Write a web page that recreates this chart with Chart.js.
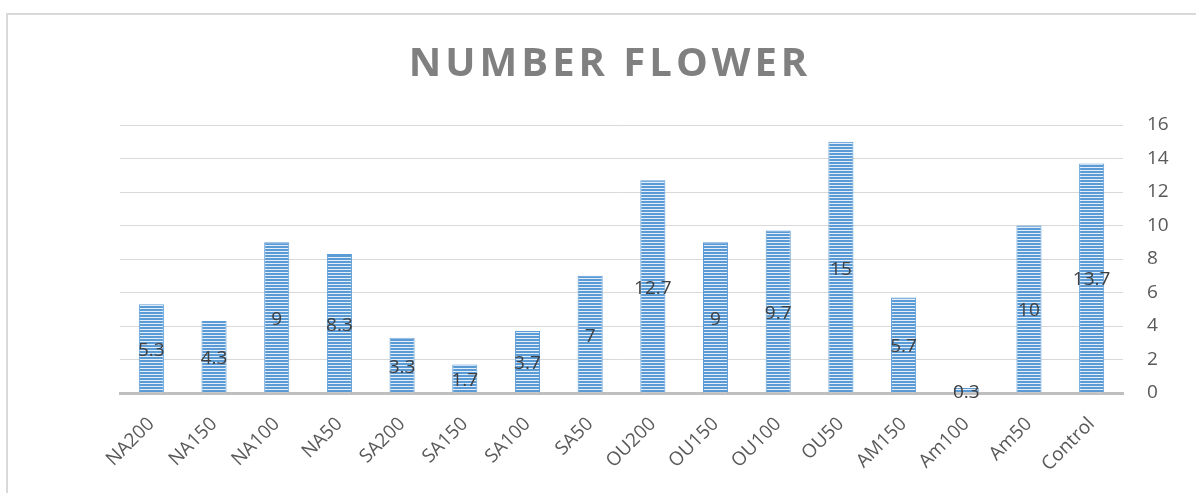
<!DOCTYPE html>
<html>
<head>
<meta charset="utf-8">
<script src="https://cdn.jsdelivr.net/npm/chart.js@4"></script>
<style>
  html, body { margin: 0; padding: 0; background: #fff; overflow: hidden; }
  #wrap { position: relative; width: 1196px; height: 493px; }
  #frame { position: absolute; left: 6px; top: 13px; width: 1300px; height: 600px; border: 2px solid #d9d9d9; }
  canvas { position: absolute; left: 0; top: 0; }
</style>
</head>
<body>
<div id="wrap">
  <div id="frame"></div>
  <canvas id="barChart" width="1196" height="493"></canvas>
</div>
<script>
var titleText = 'NUMBER FLOWER';
var categories = ['NA200', 'NA150', 'NA100', 'NA50', 'SA200', 'SA150', 'SA100', 'SA50',
                  'OU200', 'OU150', 'OU100', 'OU50', 'AM150', 'Am100', 'Am50', 'Control'];
var flowerCounts = [5.3, 4.3, 9, 8.3, 3.3, 1.7, 3.7, 7, 12.7, 9, 9.7, 15, 5.7, 0.3, 10, 13.7];
var yTicks = [0, 2, 4, 6, 8, 10, 12, 14, 16];

// striped fill like the Excel pattern
function stripes() {
    var c = document.createElement('canvas');
    c.width = 4; c.height = 3;
    var p = c.getContext('2d');
    p.fillStyle = '#5b9bd5';
    p.fillRect(0, 0, 4, 3);
    p.fillStyle = '#e4eef9';
    p.fillRect(0, 2, 4, 1);
    return p.createPattern(c, 'repeat');
}

var titlePlugin = {
    id: 'spacedTitle',
    afterDraw: function (chart) {
        var ctx = chart.ctx;
        ctx.save();
        ctx.font = 'bold 40px "Open Sans"';
        ctx.fillStyle = '#808080';
        ctx.textAlign = 'center';
        ctx.textBaseline = 'middle';
        ctx.letterSpacing = '4px';
        ctx.fillText(titleText, 610, 65);
        ctx.restore();
    }
};

var valueLabels = {
    id: 'valueLabels',
    afterDatasetsDraw: function (chart) {
        var ctx = chart.ctx;
        var meta = chart.getDatasetMeta(0);
        ctx.save();
        ctx.font = '19px "Open Sans"';
        ctx.fillStyle = '#404040';
        ctx.textAlign = 'center';
        ctx.textBaseline = 'middle';
        meta.data.forEach(function (bar, i) {
            var pt = bar.getCenterPoint();
            ctx.fillText(String(flowerCounts[i]), pt.x, pt.y + 2);
        });
        ctx.restore();
    }
};

var ctx = document.getElementById('barChart').getContext('2d');
var myChart = new Chart(ctx, {
    type: 'bar',
    data: {
        labels: categories,
        datasets: [{
            label: 'Number flower',
            data: flowerCounts,
            backgroundColor: stripes(),
            borderColor: '#5b9bd5',
            borderWidth: 1,
            barPercentage: 0.4,
            categoryPercentage: 1
        }]
    },
    options: {
        responsive: false,
        animation: false,
        layout: { padding: { left: 120, right: 10, top: 125, bottom: 0 } },
        plugins: {
            legend: { display: false },
            title: { display: false },
            tooltip: { enabled: false }
        },
        scales: {
            x: {
                grid: { display: false, drawTicks: false },
                border: { color: '#bfbfbf', width: 3 },
                ticks: {
                    color: '#595959',
                    font: { family: 'Open Sans', size: 19 },
                    minRotation: 45,
                    maxRotation: 45,
                    padding: 20
                },
                afterFit: function (scale) { scale.height = 100; }
            },
            y: {
                position: 'right',
                min: 0,
                max: 16,
                afterBuildTicks: function (scale) {
                    scale.ticks = yTicks.map(function (v) { return { value: v }; });
                },
                grid: { color: '#d9d9d9', lineWidth: 1, drawTicks: false },
                border: { display: false },
                ticks: {
                    color: '#595959',
                    font: { family: 'Open Sans', size: 19 },
                    padding: 24
                },
                afterFit: function (scale) { scale.width = 63; }
            }
        }
    },
    plugins: [titlePlugin, valueLabels]
});
</script>
</body>
</html>
